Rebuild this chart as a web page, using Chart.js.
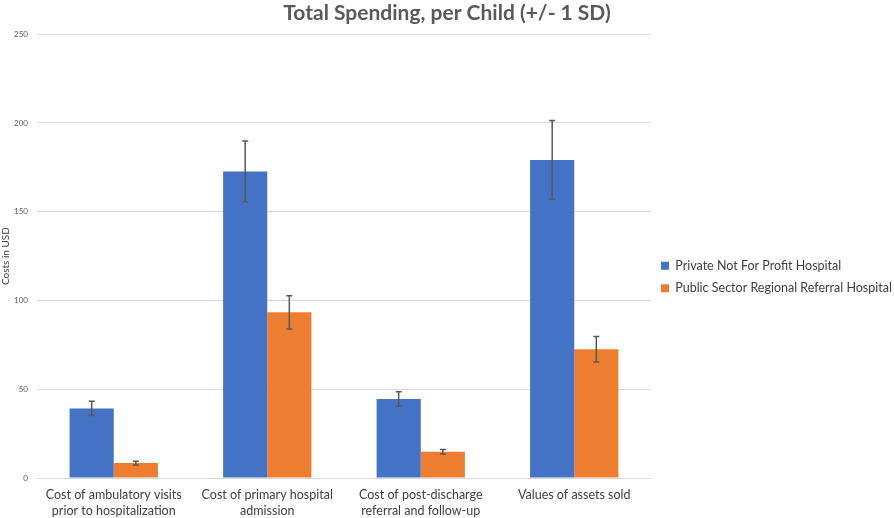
<!DOCTYPE html>
<html>
<head>
<meta charset="utf-8">
<script src="https://cdn.jsdelivr.net/npm/chart.js@4/dist/chart.umd.min.js"></script>
<style>
  html, body { margin: 0; padding: 0; background: #ffffff; }
  #wrap { width: 894px; height: 518px; position: relative; }
</style>
</head>
<body>
<div id="wrap"><canvas id="c" width="894" height="518"></canvas></div>
<script>
const categories = [
  ["Cost of ambulatory visits", "prior to hospitalization"],
  ["Cost of primary hospital", "admission"],
  ["Cost of post-discharge", "referral and follow-up"],
  ["Values of assets sold"]
];
const seriesNames = ["Private Not For Profit Hospital", "Public Sector Regional Referral Hospital"];
const privateValues = [39.2, 172.7, 44.5, 179.2];
const privateSD = [4.0, 17.2, 4.1, 22.2];
const publicValues = [8.4, 93.3, 14.8, 72.5];
const publicSD = [1.1, 9.4, 1.3, 7.2];
const yTicks = [0, 50, 100, 150, 200, 250];

const errorBarPlugin = {
  id: 'errorBars',
  afterDatasetsDraw(chart) {
    const ctx = chart.ctx;
    const yScale = chart.scales.y;
    chart.data.datasets.forEach((ds, di) => {
      const meta = chart.getDatasetMeta(di);
      meta.data.forEach((bar, i) => {
        const v = ds.data[i], sd = ds.sd[i];
        const x = bar.x;
        const yTop = yScale.getPixelForValue(v + sd);
        const yBot = yScale.getPixelForValue(v - sd);
        ctx.save();
        ctx.strokeStyle = '#595959';
        ctx.lineWidth = 1.5;
        ctx.beginPath();
        ctx.moveTo(x, yTop); ctx.lineTo(x, yBot);
        ctx.moveTo(x - 3, yTop); ctx.lineTo(x + 3, yTop);
        ctx.moveTo(x - 3, yBot); ctx.lineTo(x + 3, yBot);
        ctx.stroke();
        ctx.restore();
      });
    });
  }
};

new Chart(document.getElementById('c'), {
  type: 'bar',
  data: {
    labels: categories,
    datasets: [
      { label: seriesNames[0], data: privateValues, sd: privateSD, backgroundColor: '#4472C4', categoryPercentage: 0.575, barPercentage: 1.0 },
      { label: seriesNames[1], data: publicValues, sd: publicSD, backgroundColor: '#ED7D31', categoryPercentage: 0.575, barPercentage: 1.0 }
    ]
  },
  options: {
    responsive: false,
    animation: false,
    layout: { padding: { left: 0, right: 0, top: 0, bottom: 0 } },
    plugins: {
      title: {
        display: true,
        text: 'Total Spending, per Child (+/- 1 SD)',
        color: '#595959',
        font: { family: 'Lato', size: 21, weight: 'bold' },
        padding: { top: 1, bottom: 8 }
      },
      legend: {
        position: 'right',
        align: 'center',
        maxWidth: 243,
        title: { display: true, text: ' ', font: { size: 10 }, padding: { top: 12, bottom: 12 } },
        labels: {
          boxWidth: 8, boxHeight: 8,
          color: '#404040',
          font: { family: 'Lato', size: 12.5 },
          padding: 10
        }
      },
      tooltip: { enabled: false }
    },
    scales: {
      x: {
        afterFit(scale) { scale.height = 40; },
        grid: { display: false, drawTicks: false },
        border: { display: false },
        ticks: { color: '#404040', font: { family: 'Lato', size: 12.5, lineHeight: 1.3 }, maxRotation: 0, padding: 9 }
      },
      y: {
        min: 0, max: 250,
        afterBuildTicks(scale) { scale.ticks = yTicks.map(v => ({ value: v })); },
        afterFit(scale) { scale.width = 37; },
        grid: { color: '#d9d9d9', lineWidth: 1, drawTicks: false },
        border: { display: false },
        ticks: { color: '#595959', font: { family: 'Lato', size: 8 }, padding: 9 },
        title: { display: true, text: 'Costs in USD', color: '#404040', font: { family: 'Lato', size: 10 }, padding: 0 }
      }
    }
  },
  plugins: [errorBarPlugin]
});
</script>
</body>
</html>
